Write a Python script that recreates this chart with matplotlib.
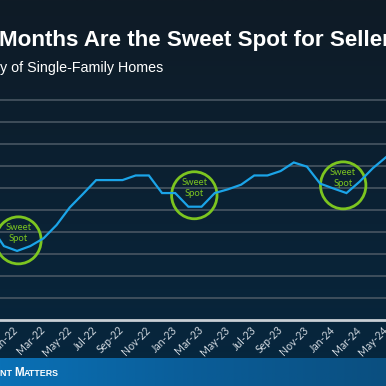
import numpy as np
import matplotlib
matplotlib.use("Agg")
import matplotlib.pyplot as plt
from matplotlib.patches import Ellipse
from matplotlib.colors import LinearSegmentedColormap

# Monthly values (Nov-21 .. May-24) (grid step = 1)
months = ["Nov-21", "Dec-21",
          "Jan-22", "Feb-22", "Mar-22", "Apr-22", "May-22", "Jun-22",
          "Jul-22", "Aug-22", "Sep-22", "Oct-22", "Nov-22", "Dec-22",
          "Jan-23", "Feb-23", "Mar-23", "Apr-23", "May-23", "Jun-23",
          "Jul-23", "Aug-23", "Sep-23", "Oct-23", "Nov-23", "Dec-23",
          "Jan-24", "Feb-24", "Mar-24", "Apr-24", "May-24"]
values = [4.25, 3.36,
          3.14, 3.36, 3.71, 4.32, 5.12, 5.73,
          6.36, 6.36, 6.36, 6.57, 6.57, 5.77,
          5.77, 5.15, 5.15, 5.77, 5.94, 6.15,
          6.57, 6.57, 6.77, 7.16, 6.97, 6.20,
          5.98, 5.77, 6.29, 6.90, 7.40]
sweet_spots = ["Jan-22", "Feb-23", "Feb-24"]
spot_x_shift = [0.1, 0.45, -0.25]
spot_y_shift = [0.48, 0.52, 0.35]

W, H = 386, 386
fig = plt.figure(figsize=(W / 100, H / 100), dpi=100)

# background gradient
bg = fig.add_axes([0, 0, 1, 1])
bg_cmap = LinearSegmentedColormap.from_list("bg", ["#0f1b26", "#0b2133", "#06273f"])
bg.imshow(np.linspace(0, 1, 200).reshape(-1, 1), aspect="auto", cmap=bg_cmap,
          extent=[0, 1, 1, 0])
bg.set_axis_off()

# main chart
x = np.arange(len(months)) - months.index("Jan-22")
ax = fig.add_axes([0, (H - 320) / H, 1, (320 - 92) / H])
ax.set_facecolor("none")
ax.set_xlim(-17.7 / 13.63, (W - 17.7) / 13.63)
ax.set_ylim(0, (320 - 92) / 22)
ax.set_yticks(np.arange(1, 11))
ax.yaxis.grid(True, color="#4d5a66", lw=1.1)
ax.set_axisbelow(True)
for s in ["top", "right", "left"]:
    ax.spines[s].set_visible(False)
ax.spines["bottom"].set_color("#c9cfd5")
ax.spines["bottom"].set_linewidth(2)
ax.tick_params(axis="y", left=False, labelleft=False)

first = months.index("Jan-22")
ax.set_xticks(x[first::2])
ax.set_xticklabels(months[first::2])
ax.tick_params(axis="x", length=0, pad=6, colors="#d3dae1")
for lab in ax.get_xticklabels():
    lab.set_rotation(45)
    lab.set_ha("right")
    lab.set_va("center")
    lab.set_rotation_mode("anchor")
    lab.set_fontfamily("Lato")
    lab.set_fontsize(7.6)

ax.plot(x, values, color="#1ba4e8", lw=1.6, solid_joinstyle="miter")

# sweet spot circles
for m, dx, dy in zip(sweet_spots, spot_x_shift, spot_y_shift):
    i = months.index(m)
    cx, cy = x[i] + dx, values[i] + dy
    ax.add_patch(Ellipse((cx, cy), 47 / 13.63, 47 / 22, fill=False,
                         ec="#7cc520", lw=2))
    ax.text(cx, cy + 0.33, "Sweet\nSpot", color="#7cc520", ha="center",
            va="center", fontsize=6.8, family="Lato", linespacing=1.2)

# titles
fig.text(-0.003, (H - 46) / H, "Months Are the Sweet Spot for Sellers",
         color="white", fontsize=16.1, fontweight="bold",
         family="Liberation Sans", ha="left", va="baseline")
fig.text(0.0, (H - 72) / H, "y of Single-Family Homes", color="white",
         fontsize=10.3, family="Liberation Sans", ha="left", va="baseline")

# bottom banner
ban = fig.add_axes([0, 0, 1, 28 / H])
ban_cmap = LinearSegmentedColormap.from_list("ban", ["#0a71b6", "#0a5d98", "#0a4f80"])
ban.imshow(np.linspace(0, 1, 200).reshape(1, -1), aspect="auto", cmap=ban_cmap,
           extent=[0, 1, 0, 1])
ban.set_axis_off()

# small-caps brand text, pieces placed one after another
renderer = fig.canvas.get_renderer()
xpos = 0.0
for piece, size in [("NT ", 6.4), ("M", 8.4), ("ATTERS", 6.4)]:
    t = fig.text(xpos, (H - 376) / H, piece, color="white", fontsize=size,
                 fontweight="bold", family="Liberation Sans", ha="left",
                 va="baseline")
    xpos += t.get_window_extent(renderer).width / W

fig.savefig("out.png", dpi=100)
